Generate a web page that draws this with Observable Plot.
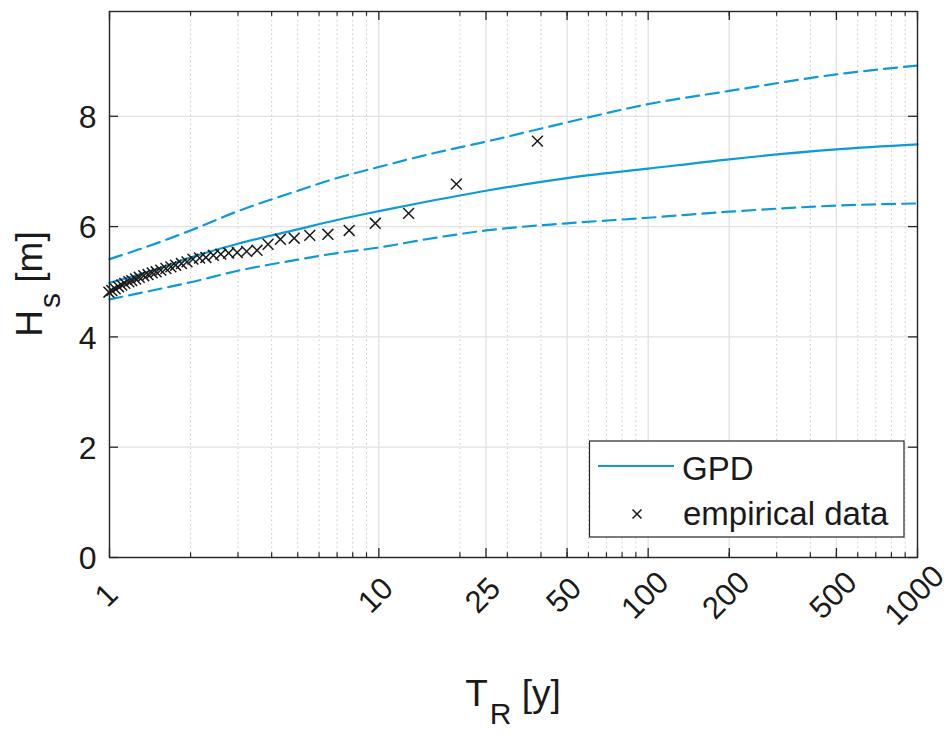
<!DOCTYPE html>
<html><head><meta charset="utf-8">
<script src="https://cdn.jsdelivr.net/npm/d3@7"></script>
<script src="https://cdn.jsdelivr.net/npm/@observablehq/plot@0.6"></script>
<style>html,body{margin:0;padding:0;background:#fff;overflow:hidden}</style>
</head><body><div id="chart"></div>
<script>
// Fitted GPD return-level curve and confidence bounds
const T_fit  = [1, 1.5, 2, 3, 5, 7, 10, 15, 25, 50, 100, 200, 500, 1000];
const Hs_gpd = [4.98, 5.23, 5.44, 5.69, 5.95, 6.12, 6.28, 6.45, 6.65, 6.88, 7.05, 7.22, 7.40, 7.49];
const Hs_up  = [5.41, 5.70, 5.93, 6.28, 6.65, 6.88, 7.08, 7.30, 7.54, 7.89, 8.22, 8.46, 8.76, 8.92];
const Hs_lo  = [4.68, 4.86, 4.99, 5.20, 5.40, 5.52, 5.62, 5.77, 5.93, 6.06, 6.16, 6.27, 6.38, 6.42];

// Empirical data
const T_emp  = [38.8, 19.4, 12.9, 9.7, 7.76, 6.47, 5.54, 4.85, 4.31, 3.88, 3.53, 3.23, 2.98, 2.77, 2.59, 2.43, 2.28, 2.16, 2.04, 1.94, 1.85, 1.76, 1.69, 1.62, 1.55, 1.49, 1.44, 1.39, 1.34, 1.29, 1.25, 1.21, 1.18, 1.14, 1.11, 1.08, 1.05, 1.02, 0.995];
const Hs_emp = [7.55, 6.77, 6.24, 6.06, 5.93, 5.86, 5.84, 5.79, 5.77, 5.68, 5.57, 5.55, 5.53, 5.52, 5.50, 5.48, 5.44, 5.43, 5.41, 5.36, 5.33, 5.30, 5.27, 5.24, 5.21, 5.18, 5.16, 5.13, 5.11, 5.08, 5.05, 5.02, 5.00, 4.97, 4.94, 4.91, 4.87, 4.84, 4.81];

// Ticks
const xMajor = [1, 10, 25, 50, 100, 200, 500, 1000];
const xMinor = [2, 3, 4, 5, 6, 7, 8, 9, 20, 30, 40, 50, 60, 70, 80, 90, 200, 300, 400, 500, 600, 700, 800, 900];
const yTicks = [0, 2, 4, 6, 8];

const fit = T_fit.map((T, i) => ({T, gpd: Hs_gpd[i], up: Hs_up[i], lo: Hs_lo[i]}));
const emp = T_emp.map((T, i) => ({T, Hs: Hs_emp[i]}));
const minorGrid = xMinor.filter(d => !xMajor.includes(d));

const W = 950, H = 737, mL = 109, mR = 33, mT = 11, mB = 180;
const innerH = H - mT - mB, innerW = W - mL - mR;
const blue = "#0c9ad8", ink = "#262626", font = "Liberation Sans, Arial, sans-serif";

const chart = Plot.plot({
  width: W, height: H,
  marginLeft: mL, marginRight: mR, marginTop: mT, marginBottom: mB,
  style: {background: "#fff", fontFamily: font, color: ink},
  x: {type: "log", domain: [1, 1000], axis: null},
  y: {domain: [0, 9.9], axis: null},
  marks: [
    Plot.ruleX(minorGrid, {x: d => d, stroke: "#c8c8c8", strokeDasharray: "1.5,3", strokeWidth: 1}),
    Plot.ruleX(xMajor, {x: d => d, stroke: "#e2e2e2", strokeWidth: 1.3}),
    Plot.ruleY(yTicks, {y: d => d, stroke: "#e2e2e2", strokeWidth: 1.3}),
    Plot.line(fit, {x: "T", y: "up", stroke: blue, strokeWidth: 2.2, strokeDasharray: "13,7", curve: "monotone-x"}),
    Plot.line(fit, {x: "T", y: "lo", stroke: blue, strokeWidth: 2.2, strokeDasharray: "13,7", curve: "monotone-x"}),
    Plot.line(fit, {x: "T", y: "gpd", stroke: blue, strokeWidth: 2.2, curve: "monotone-x"}),
    Plot.dot(emp, {x: "T", y: "Hs", symbol: "times", r: 5, stroke: "#1a1a1a", strokeWidth: 1.5}),
    // tick marks (inward, box on)
    Plot.tickX(xMinor, {x: d => d, insetTop: innerH - 4.7, stroke: ink, strokeWidth: 1.2}),
    Plot.tickX(xMinor, {x: d => d, insetBottom: innerH - 4.7, stroke: ink, strokeWidth: 1.2}),
    Plot.tickX(xMajor, {x: d => d, insetTop: innerH - 9, stroke: ink, strokeWidth: 1.3}),
    Plot.tickX(xMajor, {x: d => d, insetBottom: innerH - 9, stroke: ink, strokeWidth: 1.3}),
    Plot.tickY(yTicks, {y: d => d, insetRight: innerW - 9, stroke: ink, strokeWidth: 1.3}),
    Plot.tickY(yTicks, {y: d => d, insetLeft: innerW - 9, stroke: ink, strokeWidth: 1.3}),
    Plot.frame({stroke: ink, strokeWidth: 1.4}),
    // tick labels
    Plot.text(xMajor, {x: d => d, frameAnchor: "bottom", text: d => String(d), rotate: -45,
      textAnchor: "middle", lineAnchor: "middle", dx: -3, dy: 38, fontSize: 31, fill: "#1a1a1a"}),
    Plot.text(yTicks, {y: d => d, frameAnchor: "left", text: d => String(d), textAnchor: "end",
      lineAnchor: "middle", dx: -13, dy: 1.5, fontSize: 32, fill: "#1a1a1a"})
  ]
});

const s = d3.select(chart);
// x label
const xl = s.append("text").attr("x", mL + innerW / 2).attr("y", 706).attr("text-anchor", "middle")
  .attr("font-family", font).attr("font-size", 37).attr("fill", "#1a1a1a");
xl.append("tspan").text("T");
xl.append("tspan").attr("font-size", 30).attr("dy", 18).attr("dx", 2).text("R");
xl.append("tspan").attr("dy", -18).text(" [y]");
// y label
const yl = s.append("text").attr("transform", `translate(42,${mT + innerH / 2}) rotate(-90)`).attr("text-anchor", "middle")
  .attr("font-family", font).attr("font-size", 37).attr("fill", "#1a1a1a");
yl.append("tspan").text("H");
yl.append("tspan").attr("font-size", 30).attr("dy", 18).attr("dx", 2).text("s");
yl.append("tspan").attr("dy", -18).text(" [m]");

// legend
const lg = s.append("g").attr("font-family", font).attr("font-size", 33).attr("fill", "#1a1a1a")
  .attr("text-anchor", "start");
lg.append("rect").attr("x", 589.5).attr("y", 441).attr("width", 314.5).attr("height", 96)
  .attr("fill", "#fff").attr("stroke", ink).attr("stroke-width", 1.2);
lg.append("line").attr("x1", 598).attr("x2", 674).attr("y1", 466).attr("y2", 466)
  .attr("stroke", blue).attr("stroke-width", 2.2);
lg.append("text").attr("x", 682).attr("y", 480).attr("text-anchor", "start").text("GPD");
lg.append("path").attr("d", "M632.5,509.5L641.5,518.5M632.5,518.5L641.5,509.5")
  .attr("stroke", "#1a1a1a").attr("stroke-width", 1.5).attr("fill", "none");
lg.append("text").attr("x", 683).attr("y", 525).attr("text-anchor", "start").text("empirical data");

document.getElementById("chart").append(chart);
</script>
</body></html>
